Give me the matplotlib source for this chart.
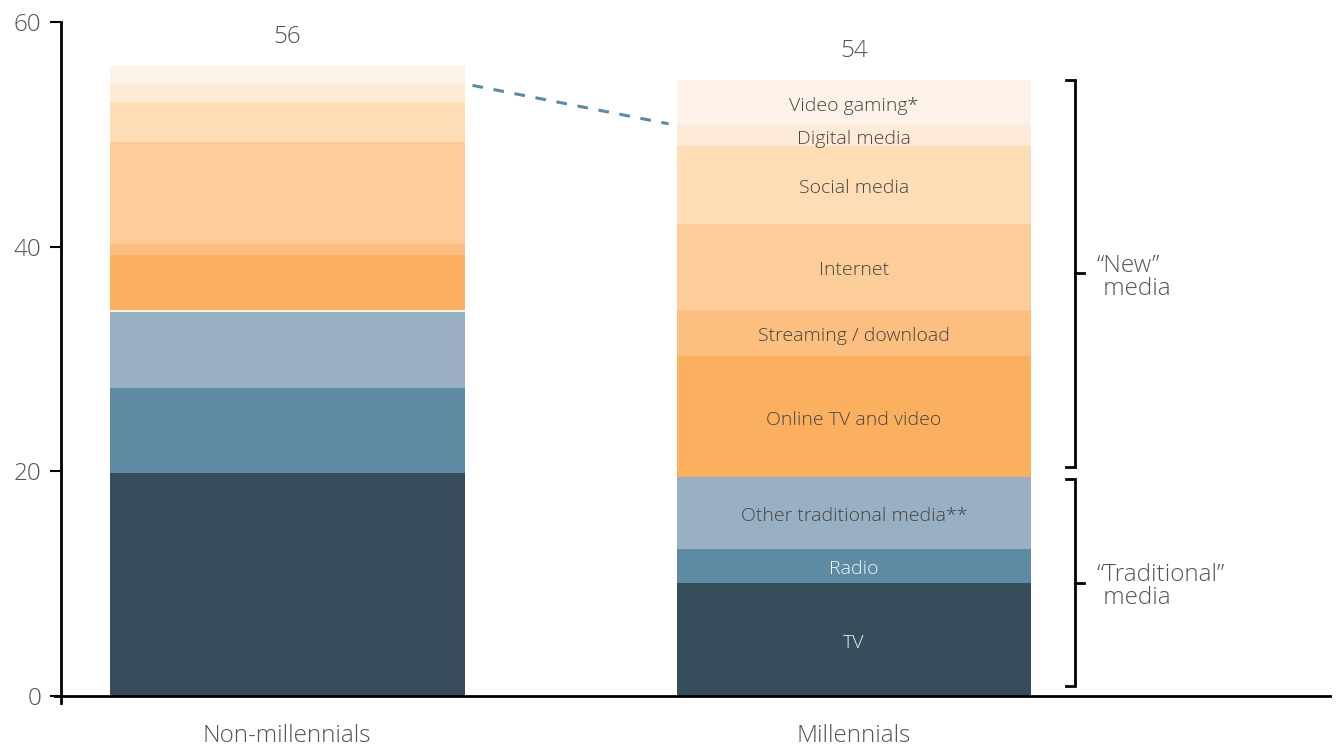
import matplotlib
matplotlib.use("Agg")
import matplotlib.pyplot as plt
import numpy as np

plt.rcParams['font.family'] = ['Open Sans', 'DejaVu Sans']
plt.rcParams['font.weight'] = 'light'

# hours per week by media type, bottom to top
groups = ['Non-millennials', 'Millennials']
media = ['TV', 'Radio', 'Other traditional media**', 'Online TV and video',
         'Streaming / download', 'Internet', 'Social media', 'Digital media',
         'Video gaming*']
non_millennials = [19.85, 7.55, 6.85, 5.0, 1.0, 9.05, 3.6, 1.6, 1.6]
millennials = [10.1, 3.0, 6.4, 10.8, 4.1, 7.6, 7.0, 1.8, 4.05]
totals = [56, 54]
n_traditional = 3

colors = ['#364e5c', '#5e8aa3', '#99afc4', '#fbb05f', '#fdbf7f',
          '#fccd98', '#fedcb5', '#fdebd8', '#fdf2e7']
label_colors = ['#eef2f5', '#f2f5f7'] + ['#444444'] * 7

fig = plt.figure(figsize=(13.37, 7.47), dpi=100)
ax = fig.add_axes([0.0456, 0.0683, 0.9492, 0.9022])

x = np.arange(len(groups))
width = 0.626
data = np.array([non_millennials, millennials])
bottoms = np.zeros(len(groups))
for i, name in enumerate(media):
    vals = data[:, i]
    ax.bar(x, vals, width, bottom=bottoms, color=colors[i], linewidth=0)
    # labels only on the millennials bar
    ax.text(x[1], bottoms[1] + vals[1] / 2 - 0.3, name, ha='center',
            va='center', fontsize=14, color=label_colors[i])
    bottoms += vals

# thin white split between traditional and new media on the first bar
trad_tops = data[:, :n_traditional].sum(axis=1)
ax.plot([x[0] - width / 2, x[0] + width / 2], [trad_tops[0]] * 2,
        color='white', lw=1.2)

# totals above bars
for xi, top, t in zip(x, bottoms, totals):
    ax.text(xi, top + 2.6, str(t), ha='center', va='center',
            fontsize=17.5, color='#555555')

# dashed link between digital media tops
digital_tops = data[:, :8].sum(axis=1)
x0, x1 = x[0] + width / 2, x[1] - width / 2
gap = 0.014
slope = (digital_tops[1] - digital_tops[0]) / (x1 - x0)
ax.plot([x0 + gap, x1 - gap],
        [digital_tops[0] + slope * gap, digital_tops[1] - slope * gap],
        color='#5e8aa3', lw=2.2, linestyle=(0, (3.5, 3.5)))

# brackets for "new" and "traditional" media
bx = 1.39
arm = 0.016
spans = [(trad_tops[1] + 0.9, bottoms[1]), (0.9, trad_tops[1] - 0.2)]
names = ['\u201cNew\u201d\n media', '\u201cTraditional\u201d\n media']
for (lo, hi), name in zip(spans, names):
    ax.plot([bx - arm, bx, bx, bx - arm], [hi, hi, lo, lo],
            color='black', lw=2, clip_on=False, solid_joinstyle='miter')
    mid = (lo + hi) / 2
    ax.plot([bx, bx + arm], [mid, mid], color='black', lw=2, clip_on=False)
    ax.text(bx + 0.038, mid - 0.35, name, ha='left', va='center',
            fontsize=17.5, color='#555555', linespacing=0.95)

ax.set_xlim(-0.399, 1.84)
ax.set_ylim(0, 60)
ax.set_xticks(x)
ax.set_xticklabels(groups, fontsize=17.5, color='#555555')
ax.set_yticks([0, 20, 40, 60])
ax.set_yticklabels(['0', '20', '40', '60'], fontsize=17.5, color='#555555')
ax.tick_params(axis='x', length=0, pad=20)
ax.tick_params(axis='y', length=8, width=1.5, color='black', pad=6)

for side in ['top', 'right']:
    ax.spines[side].set_visible(False)
ax.spines['left'].set_linewidth(2)
ax.spines['bottom'].set_linewidth(2)
ax.spines['left'].set_bounds(-0.6, 60)
ax.spines['bottom'].set_bounds(-0.41, 1.84)

fig.savefig('out.png', dpi=100, facecolor='white')
